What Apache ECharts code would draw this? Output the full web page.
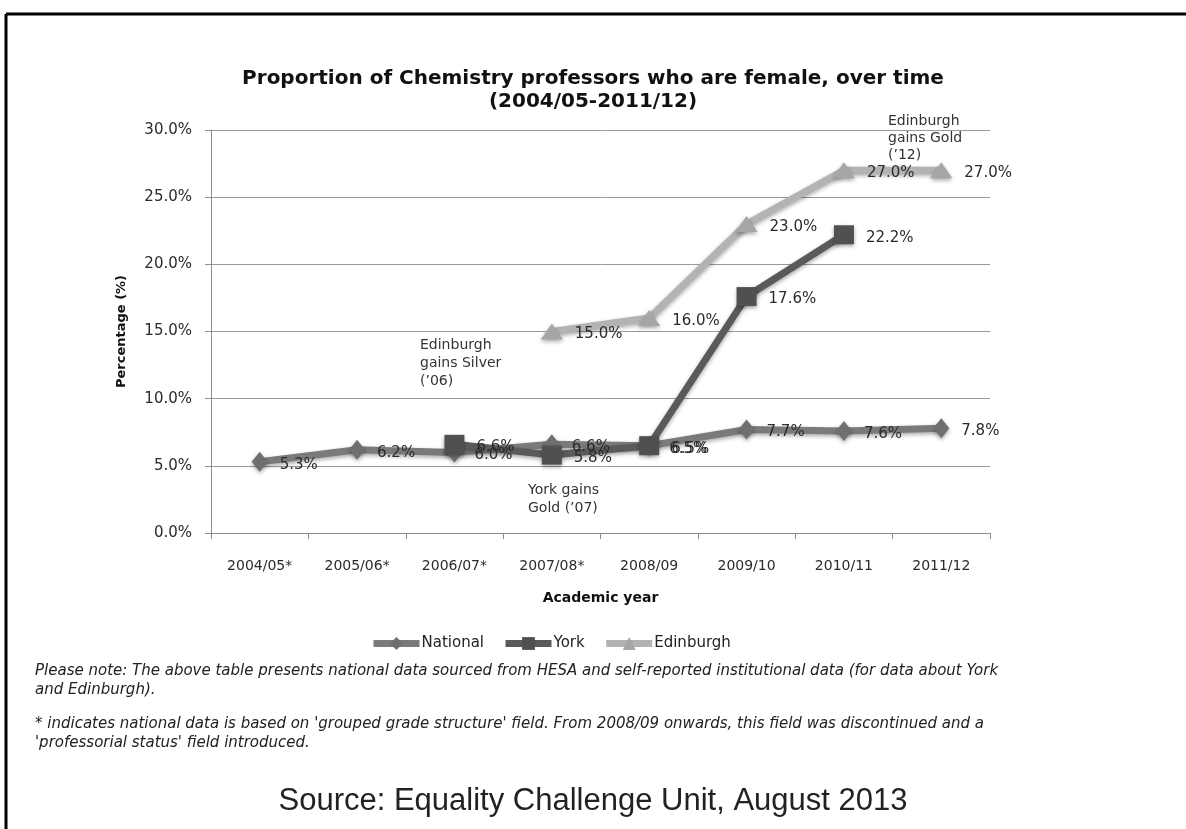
<!DOCTYPE html>
<html>
<head>
<meta charset="utf-8">
<script src="https://cdn.jsdelivr.net/npm/echarts@6/dist/echarts.min.js"></script>
<style>
  html, body { margin: 0; padding: 0; background: #fff; }
  #chart { width: 1186px; height: 829px; }
</style>
</head>
<body>
<div id="chart"></div>
<script>
// academic years (x axis)
var years = ['2004/05*', '2005/06*', '2006/07*', '2007/08*', '2008/09', '2009/10', '2010/11', '2011/12'];
// % of chemistry professors who are female
var national = [5.3, 6.2, 6.0, 6.6, 6.5, 7.7, 7.6, 7.8];
var york = [null, null, 6.6, 5.8, 6.5, 17.6, 22.2, null];
var edinburgh = [null, null, null, 15.0, 16.0, 23.0, 27.0, 27.0];
var yTicks = [0, 5, 10, 15, 20, 25, 30];

var chart = echarts.init(document.getElementById('chart'));

var labelFont = 'DejaVu Sans, Verdana, sans-serif';
var textFont = 'DejaVu Sans, sans-serif';

function mkSeries(name, data, symbol, size, color, markColor) {
    return {
        name: name,
        type: 'line',
        data: data,
        symbol: symbol,
        symbolSize: size,
        connectNulls: false,
        lineStyle: {
            width: 7,
            color: color,
            shadowBlur: 4,
            shadowColor: 'rgba(0,0,0,0.35)',
            shadowOffsetY: 2
        },
        itemStyle: {
            color: markColor,
            shadowBlur: 4,
            shadowColor: 'rgba(0,0,0,0.35)',
            shadowOffsetY: 2
        },
        label: {
            show: true,
            position: 'right',
            distance: 12,
            offset: [0, 3],
            color: '#2b2b2b',
            fontFamily: labelFont,
            fontSize: 15,
            formatter: function (p) { return p.value.toFixed(1) + '%'; }
        },
        emphasis: { disabled: true },
        animation: false
    };
}

chart.setOption({
    backgroundColor: '#fff',
    animation: false,
    color: ['#7a7a7a', '#565656', '#b3b3b3'],
    title: {
        text: 'Proportion of Chemistry professors who are female, over time\n(2004/05-2011/12)',
        left: 'center',
        top: 62,
        textStyle: {
            fontFamily: textFont,
            fontWeight: 'bold',
            fontSize: 20,
            lineHeight: 23,
            color: '#111'
        }
    },
    legend: {
        top: 631,
        left: 365,
        itemWidth: 46,
        itemHeight: 16,
        itemGap: 18,
        lineStyle: { width: 7 },
        textStyle: { fontFamily: textFont, fontSize: 15, color: '#222', padding: [0, 0, 0, -3] },
        data: ['National', 'York', 'Edinburgh']
    },
    grid: { left: 211, right: 196, top: 130, bottom: 296, containLabel: false },
    xAxis: {
        type: 'category',
        data: years,
        boundaryGap: true,
        name: 'Academic year',
        nameLocation: 'middle',
        nameGap: 58,
        nameTextStyle: { fontFamily: textFont, fontWeight: 'bold', fontSize: 14, color: '#111' },
        axisLine: { lineStyle: { color: '#8c8c8c', width: 1 } },
        axisTick: { show: true, length: 6, lineStyle: { color: '#8c8c8c' } },
        axisLabel: { fontFamily: labelFont, fontSize: 14, color: '#2b2b2b', margin: 26 }
    },
    yAxis: {
        type: 'value',
        min: yTicks[0],
        max: yTicks[yTicks.length - 1],
        interval: 5,
        name: 'Percentage (%)',
        nameLocation: 'middle',
        nameGap: 83,
        nameRotate: 90,
        nameTextStyle: { fontFamily: textFont, fontWeight: 'bold', fontSize: 13, color: '#111' },
        axisLine: { show: true, lineStyle: { color: '#8c8c8c', width: 1 } },
        axisTick: { show: true, length: 6, lineStyle: { color: '#8c8c8c' } },
        splitLine: { lineStyle: { color: '#9a9a9a', width: 1 } },
        axisLabel: {
            fontFamily: labelFont, fontSize: 15, color: '#2b2b2b', margin: 19,
            formatter: function (v) { return v.toFixed(1) + '%'; }
        }
    },
    series: [
        mkSeries('National', national, 'diamond', [16, 20], '#7a7a7a', '#6f6f6f'),
        mkSeries('York', york, 'rect', [20, 19], '#5a5a5a', '#505050'),
        mkSeries('Edinburgh', edinburgh, 'triangle', [22, 16], '#b3b3b3', '#a6a6a6')
    ],
    graphic: [
        // frame
        { type: 'line', shape: { x1: 6, y1: 14, x2: 1186, y2: 14 }, style: { stroke: '#000', lineWidth: 3 } },
        { type: 'line', shape: { x1: 6, y1: 14, x2: 6, y2: 829 }, style: { stroke: '#000', lineWidth: 3 } },
        // annotations
        { type: 'text', left: 420, top: 336, style: { text: 'Edinburgh\ngains Silver\n(\u201906)', fontFamily: textFont, fontSize: 14, lineHeight: 18, fill: '#333' } },
        { type: 'text', left: 528, top: 481, style: { text: 'York gains\nGold (\u201907)', fontFamily: textFont, fontSize: 14, lineHeight: 18, fill: '#333' } },
        { type: 'text', left: 888, top: 113, style: { text: 'Edinburgh\ngains Gold\n(\u201912)', fontFamily: textFont, fontSize: 14, lineHeight: 17, fill: '#333' } },
        // notes
        { type: 'text', left: 35, top: 662, style: { text: 'Please note: The above table presents national data sourced from HESA and self-reported institutional data (for data about York\nand Edinburgh).', fontFamily: textFont, fontStyle: 'italic', fontSize: 15, lineHeight: 19, fill: '#222' } },
        { type: 'text', left: 35, top: 715, style: { text: "* indicates national data is based on 'grouped grade structure' field. From 2008/09 onwards, this field was discontinued and a\n'professorial status' field introduced.", fontFamily: textFont, fontStyle: 'italic', fontSize: 15, lineHeight: 19, fill: '#222' } },
        // source
        { type: 'text', left: 'center', top: 786, style: { text: 'Source: Equality Challenge Unit, August 2013', fontFamily: 'Liberation Sans, Arial, sans-serif', fontSize: 31, fill: '#222' } }
    ]
});
</script>
</body>
</html>
